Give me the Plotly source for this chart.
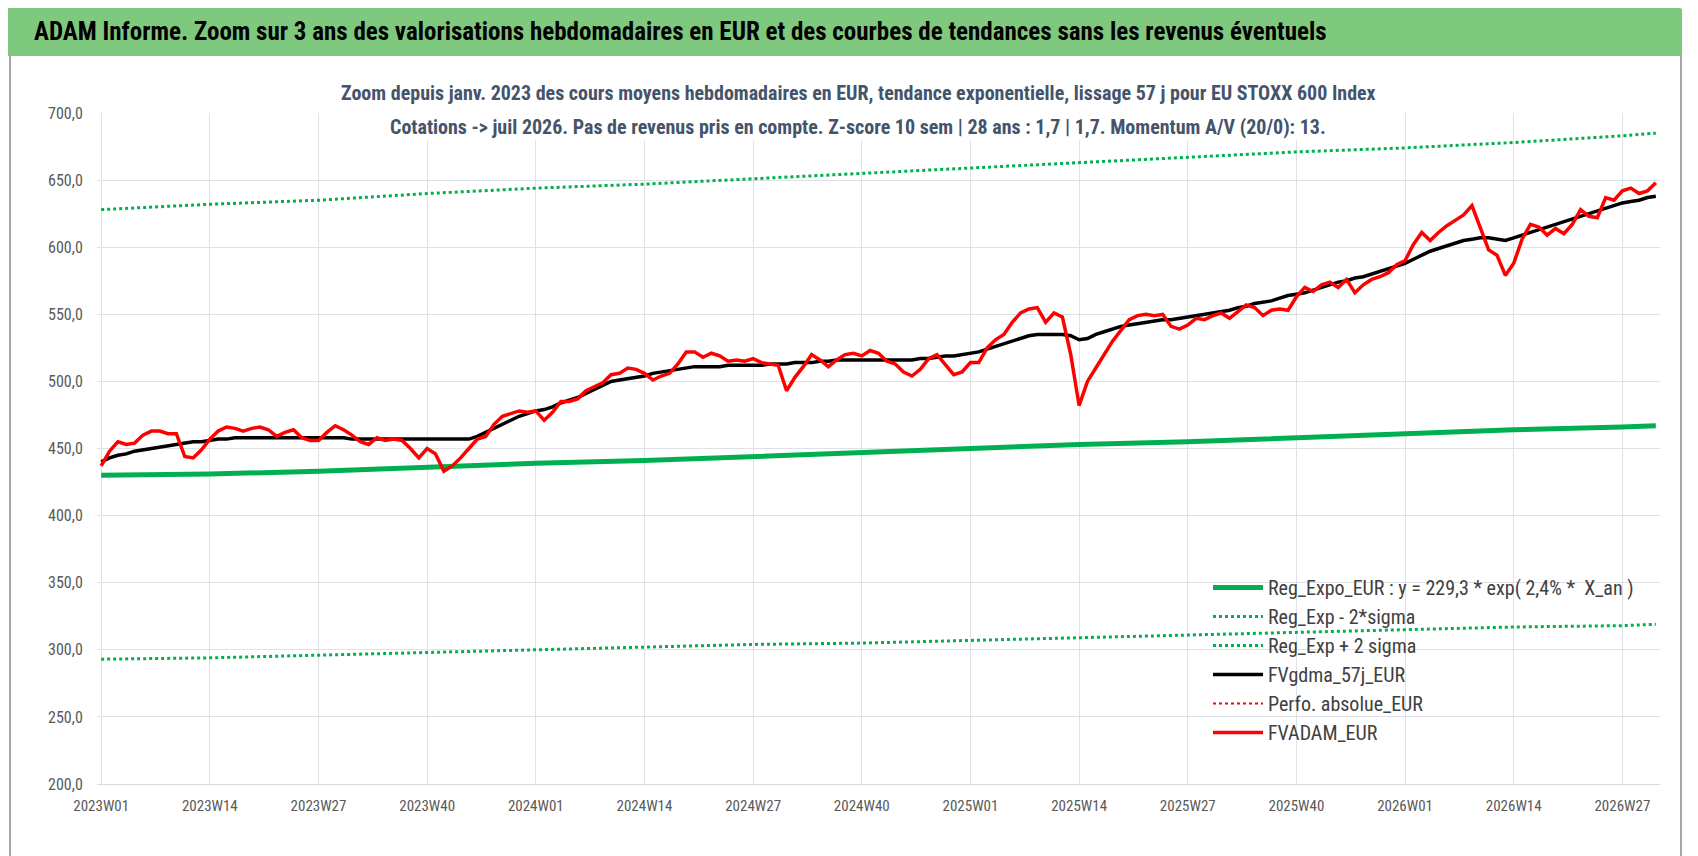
import plotly.graph_objects as go

# semaines 2023W01 -> 2026W31
weeks = [f"{y}W{w:02d}" for y in (2023, 2024, 2025) for w in range(1, 53)] + \
        [f"2026W{w:02d}" for w in range(1, 32)]

tick_weeks = ['2023W01', '2023W14', '2023W27', '2023W40', '2024W01', '2024W14', '2024W27',
              '2024W40', '2025W01', '2025W14', '2025W27', '2025W40', '2026W01', '2026W14', '2026W27']

fvadam = [437, 448, 455, 453, 454, 460, 463, 463, 461, 461, 444, 443, 449,
          457, 463, 466, 465, 463, 465, 466, 464, 459, 462, 464, 458, 456,
          456, 462, 467, 464, 460, 455, 453, 458, 456, 457, 456, 450, 443,
          450, 446, 433, 437, 443, 450, 457, 459, 468, 474, 476, 478, 477,
          478, 471, 477, 485, 485, 487, 493, 496, 499, 505, 506, 510, 509,
          506, 501, 504, 506, 513, 522, 522, 518, 521, 519, 515, 516, 515,
          517, 514, 513, 512, 493, 503, 511, 520, 516, 511, 516, 520, 521,
          519, 523, 521, 515, 513, 507, 504, 509, 517, 520, 512, 505, 507,
          514, 514, 525, 531, 535, 544, 551, 554, 555, 544, 551, 548, 520,
          482, 500, 510, 520, 530, 538, 546, 549, 550, 549, 550, 541, 539,
          542, 547, 546, 549, 551, 547, 552, 557, 555, 549, 553, 554, 553,
          563, 570, 567, 572, 574, 570, 576, 566, 572, 576, 578, 581, 587,
          590, 602, 611, 605, 611, 616, 620, 624, 631, 615, 598, 594, 579,
          588, 606, 617, 615, 609, 614, 610, 617, 628, 623, 622, 637, 635,
          642, 644, 640, 642, 648]

fvgdma = [440, 443, 445, 446, 448, 449, 450, 451, 452, 453, 454, 455, 455,
          456, 457, 457, 458, 458, 458, 458, 458, 458, 458, 458, 458, 458,
          458, 458, 458, 458, 457, 457, 457, 457, 457, 457, 457, 457, 457,
          457, 457, 457, 457, 457, 457, 459, 462, 465, 468, 471, 474, 476,
          478, 479, 481, 484, 486, 488, 491, 494, 497, 500, 501, 502, 503,
          504, 506, 507, 508, 509, 510, 511, 511, 511, 511, 512, 512, 512,
          512, 512, 513, 513, 513, 514, 514, 514, 515, 515, 516, 516, 516,
          516, 516, 516, 516, 516, 516, 516, 517, 517, 518, 519, 519, 520,
          521, 522, 524, 526, 528, 530, 532, 534, 535, 535, 535, 535, 534,
          531, 532, 535, 537, 539, 541, 542, 543, 544, 545, 546, 546, 547,
          548, 549, 550, 551, 552, 553, 555, 556, 558, 559, 560, 562, 564,
          565, 566, 568, 570, 572, 574, 575, 577, 578, 580, 582, 584, 586,
          588, 591, 594, 597, 599, 601, 603, 605, 606, 607, 607, 606, 605,
          607, 609, 611, 613, 615, 617, 619, 621, 623, 625, 627, 629, 631,
          633, 634, 635, 637, 638]

reg_weeks = tick_weeks + ['2026W31']
reg_expo = [430, 431, 433, 436, 439, 441, 444, 447, 450, 453, 455, 458, 461, 464, 466, 467]
reg_minus = [293, 294, 296, 298, 300, 302, 304, 305, 307, 309, 311, 313, 315, 317, 318, 319]
reg_plus = [628, 632, 635, 640, 644, 647, 651, 655, 659, 663, 667, 671, 674, 678, 683, 685]

W, H = 1698, 856
L, R, T, B = 89, 46, 105, 80
pw, ph = W - L - R, H - T - B


def px(x):
    return (x - L) / pw


def py(y):
    return 1 - (y - T) / ph


green = '#00b050'
fig = go.Figure()
fig.add_trace(go.Scatter(x=reg_weeks, y=reg_expo, mode='lines', line=dict(color=green, width=5),
                         name='Reg_Expo_EUR : y = 229,3 * exp( 2,4% *  X_an )'))
fig.add_trace(go.Scatter(x=reg_weeks, y=reg_minus, mode='lines', line=dict(color=green, width=3, dash='dot'),
                         name='Reg_Exp - 2*sigma'))
fig.add_trace(go.Scatter(x=reg_weeks, y=reg_plus, mode='lines', line=dict(color=green, width=3, dash='dot'),
                         name='Reg_Exp + 2 sigma'))
fig.add_trace(go.Scatter(x=weeks, y=fvgdma, mode='lines', line=dict(color='black', width=3.5),
                         name='FVgdma_57j_EUR'))
fig.add_trace(go.Scatter(x=[None], y=[None], mode='lines', line=dict(color='red', width=2, dash='dot'),
                         name='Perfo. absolue_EUR'))
fig.add_trace(go.Scatter(x=weeks, y=fvadam, mode='lines', line=dict(color='#ff0000', width=3.5),
                         name='FVADAM_EUR'))

font = "Liberation Sans Narrow, Roboto Condensed, Arial Narrow, sans-serif"
fig.update_layout(
    width=W, height=H, margin=dict(l=L, r=R, t=T, b=B),
    paper_bgcolor='white', plot_bgcolor='white',
    separators=', ',
    font=dict(family=font, color='#595959'),
    showlegend=True,
    legend=dict(x=px(1200), y=py(560), xanchor='left', yanchor='top', bgcolor='rgba(0,0,0,0)',
                font=dict(size=20, color='#404040'), tracegroupgap=0, itemwidth=50),
    xaxis=dict(type='category', categoryorder='array', categoryarray=weeks,
               tickvals=tick_weeks, ticktext=tick_weeks, showgrid=True, gridcolor='#dde1e8',
               tickfont=dict(size=15), range=[-0.5, len(weeks) - 0.5], zeroline=False,
               showline=True, linecolor='#d9d9d9', ticks='outside', ticklen=8, tickcolor='white'),
    yaxis=dict(range=[200, 700], dtick=50, tickformat='.1f', showgrid=True, gridcolor='#dde1e8',
               tickfont=dict(size=16), zeroline=False, ticks='outside', ticklen=10, tickcolor='white'),
    shapes=[
        dict(type='rect', xref='paper', yref='paper', x0=px(2), x1=px(1673), y0=py(2), y1=py(851),
             line=dict(color='#a6a6a6', width=2), fillcolor='rgba(0,0,0,0)', layer='below'),
        dict(type='rect', xref='paper', yref='paper', x0=px(0), x1=px(1673), y0=py(0), y1=py(48),
             line=dict(width=0), fillcolor='#7fc97f'),
    ],
    annotations=[
        dict(text='<b>ADAM Informe. Zoom sur 3 ans des valorisations hebdomadaires en EUR et des courbes de tendances sans les revenus éventuels</b>',
             xref='paper', yref='paper', x=px(24), y=py(24), xanchor='left', yanchor='middle',
             showarrow=False, font=dict(size=25, color='black', family=font)),
        dict(text='<b>Zoom depuis janv. 2023 des cours moyens hebdomadaires en EUR, tendance exponentielle, lissage 57 j pour EU STOXX 600 Index</b>',
             xref='paper', yref='paper', x=px(850), y=py(85), xanchor='center', yanchor='middle',
             showarrow=False, bgcolor='white', font=dict(size=20, color='#44546a', family=font)),
        dict(text='<b>Cotations -> juil 2026. Pas de revenus pris en compte. Z-score 10 sem | 28 ans : 1,7 | 1,7. Momentum A/V (20/0): 13.</b>',
             xref='paper', yref='paper', x=px(850), y=py(119), xanchor='center', yanchor='middle',
             showarrow=False, bgcolor='white', font=dict(size=20, color='#44546a', family=font)),
    ],
)

fig.write_html("out.html")
